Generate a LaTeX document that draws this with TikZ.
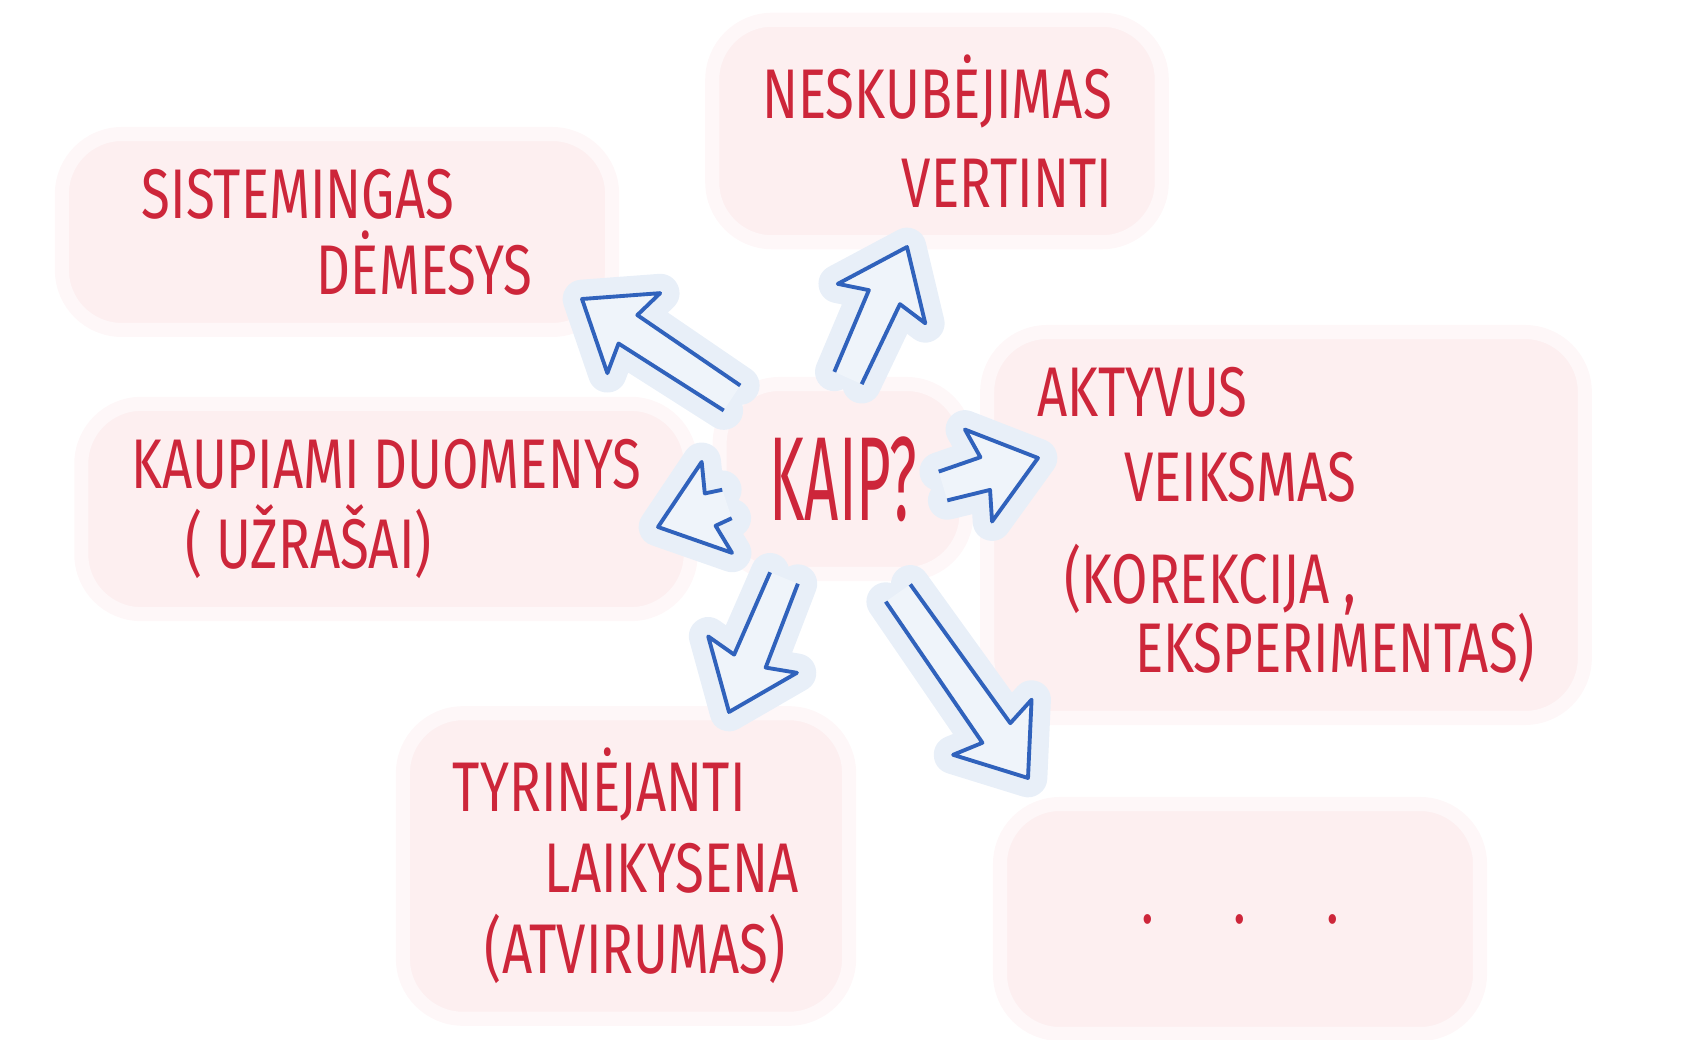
\documentclass[tikz,border=0pt]{standalone}
\usepackage{fontspec}
\setmainfont[FakeStretch=0.75]{Fira Sans}
\newfontfamily\kaipfont[FakeStretch=0.5]{Fira Sans}
\usetikzlibrary{positioning, calc}

\definecolor{inkred}{RGB}{205,38,58}
\definecolor{inkblue}{RGB}{48,98,188}
\definecolor{haloblue}{RGB}{232,239,248}
\definecolor{blobpink}{RGB}{253,239,240}

\tikzset{
  blob/.style={fill=blobpink, draw=blobpink!50, line width=4pt, rounded corners=0.6cm,
    text=inkred, align=left, inner xsep=0.5cm, inner ysep=0.35cm,
    font=\fontsize{20}{23}\selectfont},
  kaipblob/.style={blob, minimum width=2.3cm, minimum height=1.9cm,
    font=\kaipfont\fontsize{34}{40}\selectfont},
  fatarrow/.style={draw=inkblue, fill=haloblue!70, line width=1.1pt, line join=round,
    preaction={draw=haloblue, line width=11pt, line cap=round, line join=round},
    to path={
      ($(\tikztostart)!0.15cm!90:(\tikztotarget)$) --
      ($(\tikztotarget)!0.576cm!-17.2:(\tikztostart)$) --
      ($(\tikztotarget)!0.784cm!-37.7:(\tikztostart)$) --
      (\tikztotarget) --
      ($(\tikztotarget)!0.784cm!37.7:(\tikztostart)$) --
      ($(\tikztotarget)!0.576cm!17.2:(\tikztostart)$) --
      ($(\tikztostart)!0.15cm!-90:(\tikztotarget)$)
    }}
}

\begin{document}
\begin{tikzpicture}[on grid, node distance=2cm]
  \useasboundingbox (0,0) rectangle (17.06,-10.40);

  % centre and the six ideas
  \node[kaipblob] (kaip) at (8.43,-4.79) {KAIP?};
  \node[blob, align=right] (nesk) [above right=3.48cm and 0.94cm of kaip]
    {NESKUBĖJIMAS\\[0.08cm]VERTINTI};
  \node[blob, inner xsep=0.8cm] (sist) [above left=2.47cm and 5.06cm of kaip]
    {SISTEMINGAS\\[-0.05cm]\hspace*{1.75cm}DĖMESYS};
  \node[blob] (kaup) [below left=0.30cm and 4.57cm of kaip]
    {KAUPIAMI DUOMENYS\\\hspace*{0.54cm}( UŽRAŠAI)};
  \node[blob] (akt) [below right=0.46cm and 4.43cm of kaip]
    {AKTYVUS\\[0.04cm]\hspace*{0.87cm}VEIKSMAS\\[0.22cm]\hspace*{0.27cm}(KOREKCIJA ,\\[-0.12cm]\hspace*{0.98cm}EKSPERIMENTAS)};
  \node[blob] (tyr) [below left=3.87cm and 2.17cm of kaip]
    {TYRINĖJANTI\\\hspace*{0.92cm}LAIKYSENA\\\hspace*{0.32cm}(ATVIRUMAS)};
  \node[blob, align=center, minimum width=4.8cm, minimum height=2.3cm] (dots)
    [below right=4.40cm and 3.97cm of kaip] {.\hspace{0.8cm}.\hspace{0.8cm}.};

  % ends of the arrows
  \coordinate (s1) at ([shift={(-1.11,0.81)}]kaip);
  \coordinate (h1) at ([shift={(-2.61,1.80)}]kaip);
  \coordinate (s2) at ([shift={(0.05,1.01)}]kaip);
  \coordinate (h2) at ([shift={(0.64,2.32)}]kaip);
  \coordinate (s3) at ([shift={(1.0,-0.07)}]kaip);
  \coordinate (h3) at ([shift={(1.95,0.21)}]kaip);
  \coordinate (s4) at ([shift={(-1.16,-0.25)}]kaip);
  \coordinate (h4) at ([shift={(-1.85,-0.48)}]kaip);
  \coordinate (s5) at ([shift={(-0.59,-0.99)}]kaip);
  \coordinate (h5) at ([shift={(-1.14,-2.33)}]kaip);
  \coordinate (s6) at ([shift={(0.55,-1.14)}]kaip);
  \coordinate (h6) at ([shift={(1.85,-2.99)}]kaip);

  \draw[fatarrow] (s1) to (h1);
  \draw[fatarrow] (s2) to (h2);
  \draw[fatarrow] (s3) to (h3);
  \draw[fatarrow] (s4) to (h4);
  \draw[fatarrow] (s5) to (h5);
  \draw[fatarrow] (s6) to (h6);
\end{tikzpicture}
\end{document}
